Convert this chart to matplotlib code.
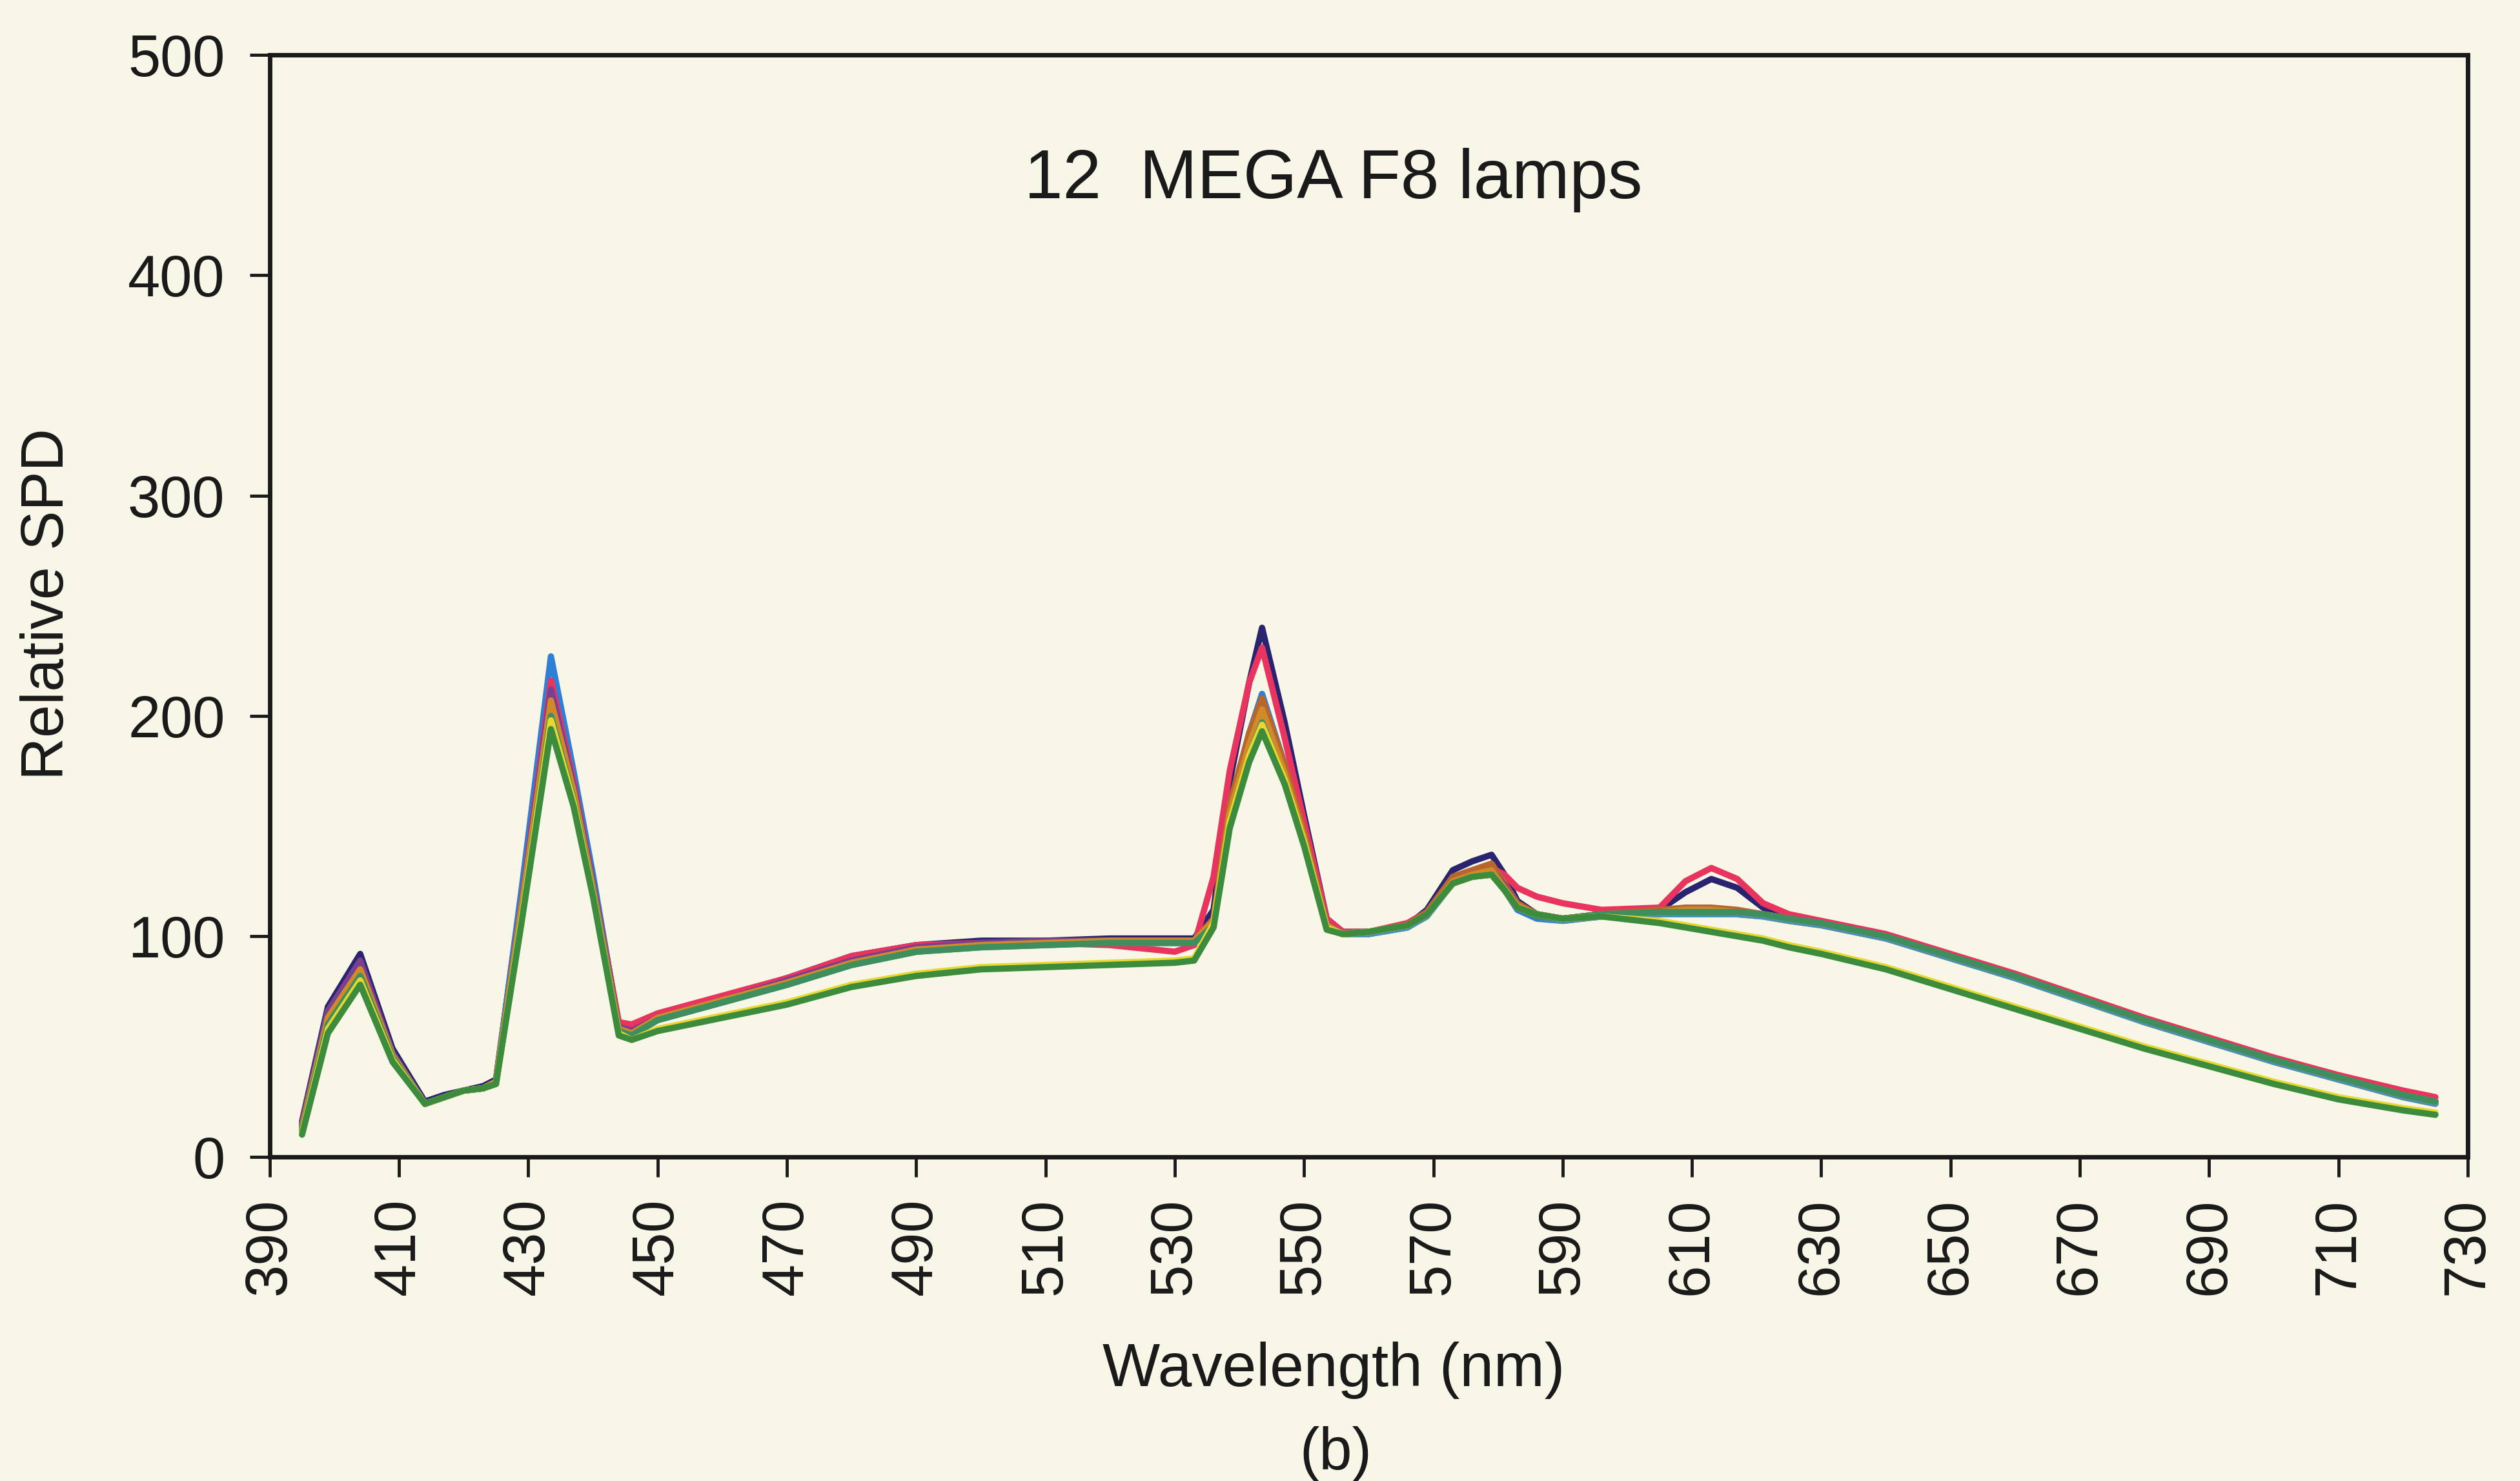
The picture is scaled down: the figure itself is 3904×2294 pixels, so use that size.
import numpy as np
import matplotlib
matplotlib.use("Agg")
import matplotlib.pyplot as plt

plt.rcParams['font.family'] = ['Liberation Sans', 'DejaVu Sans']

# wavelength samples (nm), shared by all lamps
wl = [395, 399, 404, 409, 414, 417, 420, 423, 425, 429,
      433.5, 437, 440, 444, 446, 450, 460, 470, 480, 490,
      500, 510, 520, 530, 533, 536, 538.5, 541.5, 543.5, 547,
      550, 553.5, 556, 560, 566, 569, 573, 576, 579, 581,
      583, 586, 590, 596, 605, 609, 613, 617, 621, 625,
      630, 640, 650, 660, 670, 680, 690, 700, 710, 720, 725]

# relative SPD of the 12 lamps
lamp01 = [16, 68, 92, 49, 25, 28, 30, 32, 35, 120,
          215, 172, 126, 60, 58, 64, 72, 81, 91, 96,
          98, 98, 99, 99, 99, 112, 170, 215, 240, 197,
          155, 108, 102, 102, 105, 112, 130, 134, 137, 128,
          116, 110, 108, 110, 112, 120, 126, 122, 113, 109,
          106, 100, 91, 82, 72, 62, 53, 44, 36, 28, 25]
lamp02 = [14, 66, 88, 47, 24, 27, 30, 31, 34, 122,
          227, 175, 128, 59, 56, 62, 70, 78, 87, 93,
          96, 97, 98, 98, 98, 106, 158, 192, 210, 178,
          148, 106, 101, 101, 104, 110, 125, 128, 130, 121,
          112, 108, 107, 109, 110, 110, 110, 110, 110, 108,
          106, 100, 91, 82, 72, 62, 53, 44, 36, 28, 25]
lamp03 = [15, 65, 84, 46, 24, 27, 30, 31, 34, 116,
          216, 170, 124, 61, 60, 65, 73, 81, 91, 96,
          97, 97, 96, 93, 96, 127, 175, 215, 231, 190,
          152, 108, 102, 102, 106, 111, 126, 129, 131, 128,
          122, 118, 115, 112, 113, 125, 131, 126, 115, 110,
          107, 101, 92, 83, 73, 63, 54, 45, 37, 30, 27]
lamp04 = [13, 63, 85, 46, 24, 27, 30, 31, 34, 113,
          206, 165, 121, 57, 55, 62, 70, 79, 88, 94,
          96, 97, 98, 98, 98, 107, 157, 189, 206, 175,
          146, 105, 101, 102, 105, 110, 125, 128, 129, 122,
          114, 110, 108, 110, 111, 111, 111, 111, 110, 108,
          106, 100, 91, 82, 72, 62, 53, 44, 36, 28, 25]
lamp05 = [14, 64, 87, 46, 24, 27, 30, 31, 34, 115,
          210, 167, 123, 58, 56, 63, 71, 79, 88, 94,
          96, 97, 98, 98, 98, 108, 160, 192, 208, 178,
          147, 105, 101, 102, 105, 111, 127, 130, 133, 124,
          115, 110, 108, 110, 112, 113, 113, 112, 110, 108,
          106, 100, 91, 82, 72, 62, 53, 44, 36, 28, 25]
lamp06 = [14, 66, 89, 47, 24, 27, 30, 31, 34, 115,
          212, 168, 124, 59, 57, 63, 71, 80, 89, 95,
          97, 98, 98, 98, 98, 106, 155, 186, 202, 173,
          145, 105, 101, 102, 105, 110, 125, 128, 130, 123,
          114, 110, 108, 110, 111, 111, 111, 111, 110, 108,
          106, 100, 91, 82, 72, 62, 53, 44, 36, 28, 25]
lamp07 = [13, 63, 85, 46, 24, 27, 30, 31, 34, 113,
          204, 164, 121, 57, 55, 62, 70, 78, 87, 93,
          96, 97, 97, 97, 97, 106, 155, 185, 200, 172,
          144, 104, 101, 102, 105, 110, 124, 127, 128, 121,
          113, 109, 108, 109, 110, 110, 110, 110, 109, 107,
          105, 99, 90, 81, 71, 61, 52, 43, 35, 27, 24]
lamp08 = [13, 62, 84, 45, 24, 27, 30, 31, 34, 112,
          203, 163, 120, 57, 55, 62, 70, 78, 87, 93,
          95, 96, 97, 97, 97, 105, 153, 183, 198, 171,
          143, 104, 101, 101, 104, 109, 124, 127, 128, 121,
          113, 109, 107, 109, 110, 110, 110, 110, 109, 107,
          105, 99, 90, 81, 71, 61, 52, 43, 35, 27, 24]
lamp09 = [13, 63, 85, 46, 24, 27, 30, 31, 34, 114,
          207, 166, 122, 58, 56, 63, 71, 79, 88, 94,
          96, 97, 98, 98, 98, 107, 156, 187, 203, 174,
          145, 105, 101, 102, 105, 110, 125, 128, 130, 122,
          114, 110, 108, 110, 111, 112, 112, 111, 110, 108,
          106, 100, 91, 82, 72, 62, 53, 44, 36, 28, 25]
lamp10 = [12, 60, 82, 45, 24, 27, 30, 31, 33, 110,
          200, 162, 120, 57, 55, 62, 70, 78, 87, 93,
          95, 96, 97, 97, 97, 105, 152, 182, 197, 170,
          143, 104, 101, 102, 105, 110, 124, 127, 128, 121,
          113, 109, 108, 110, 111, 111, 111, 111, 110, 108,
          106, 100, 91, 82, 72, 62, 53, 44, 36, 28, 25]
lamp11 = [11, 58, 80, 44, 24, 27, 30, 31, 33, 109,
          198, 161, 119, 56, 53, 58, 64, 70, 78, 83,
          86, 87, 88, 89, 90, 106, 152, 182, 196, 171,
          143, 104, 101, 102, 105, 110, 124, 127, 128, 121,
          113, 110, 108, 109, 107, 105, 103, 101, 99, 96,
          93, 86, 77, 68, 59, 50, 42, 34, 27, 22, 20]
lamp12 = [10, 56, 78, 43, 24, 27, 30, 31, 33, 107,
          194, 159, 118, 55, 53, 57, 63, 69, 77, 82,
          85, 86, 87, 88, 89, 104, 149, 179, 193, 169,
          141, 103, 101, 102, 105, 110, 124, 127, 128, 121,
          113, 110, 108, 109, 106, 104, 102, 100, 98, 95,
          92, 85, 76, 67, 58, 49, 41, 33, 26, 21, 19]

lamps = [lamp01, lamp02, lamp03, lamp04, lamp05, lamp06,
         lamp07, lamp08, lamp09, lamp10, lamp11, lamp12]
colors = ['#2a2470', '#2f7fd6', '#e8345e', '#2a8c8c', '#b8652e', '#7b3f8f',
          '#8a8a2a', '#4a90b8', '#d08a2a', '#3e8e5e', '#e6d830', '#3d8b3d']

xticks = list(range(390, 731, 20))
yticks = [0, 100, 200, 300, 400, 500]

bg = '#f8f6e6'
fig = plt.figure(figsize=(39.05, 22.94), dpi=100, facecolor=bg)
ax = fig.add_axes([0.107, 0.219, 0.872, 0.744])
ax.set_facecolor(bg)

for y, c in zip(lamps, colors):
    ax.plot(wl, y, color=c, lw=7, solid_joinstyle='round', solid_capstyle='round')

ax.set_xlim(390, 730)
ax.set_ylim(0, 500)
ax.set_xticks(xticks)
ax.set_yticks(yticks)
ax.set_xticklabels([str(t) for t in xticks], rotation=90)
ax.tick_params(axis='both', direction='out', length=22, width=3.5,
               labelsize=65, colors='#1a1a1a')
ax.tick_params(axis='x', pad=24)
ax.tick_params(axis='y', pad=28)
for s in ax.spines.values():
    s.set_linewidth(5)
    s.set_color('#1a1a1a')

ax.text(0.484, 0.87, '12  MEGA F8 lamps', transform=ax.transAxes,
        ha='center', va='baseline', fontsize=77, color='#1a1a1a')

fig.text(0.019, 0.592, 'Relative SPD', rotation=90, ha='center', va='center',
         fontsize=66, color='#1a1a1a')
fig.text(0.529, 0.064, 'Wavelength (nm)', ha='center', va='baseline',
         fontsize=68, color='#1a1a1a')
fig.text(0.53, 0.008, '(b)', ha='center', va='baseline',
         fontsize=66, color='#1a1a1a')

fig.savefig('out.png', dpi=100, facecolor=bg)
